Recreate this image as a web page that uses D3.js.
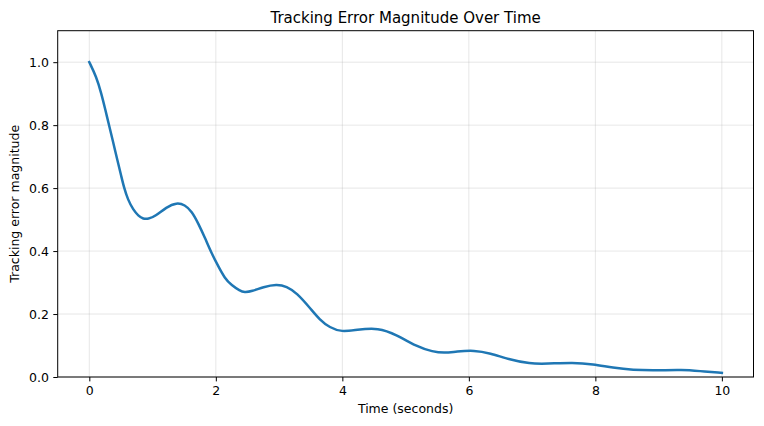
<!DOCTYPE html>
<html>
<head>
<meta charset="utf-8">
<script src="https://cdn.jsdelivr.net/npm/d3@7"></script>
<style>
  body { margin: 0; background: #fff; }
  text { font-family: "DejaVu Sans", sans-serif; fill: #000; }
</style>
</head>
<body>
<div id="chart"></div>
<script>
// Values
var times = [0, 0.11, 0.19, 0.253, 0.311, 0.374, 0.442, 0.506, 0.548, 0.61, 0.695, 0.774, 0.853, 0.932,
             1.04, 1.22, 1.38, 1.51, 1.62, 1.72, 1.83, 1.93, 2.04, 2.14, 2.25, 2.38, 2.45, 2.57,
             2.75, 2.96, 3.12, 3.28, 3.49, 3.64, 3.80, 3.99, 4.22, 4.57, 4.86, 5.17, 5.43, 5.62,
             5.80, 6.09, 6.33, 6.65, 6.96, 7.23, 7.65, 7.96, 8.28, 8.59, 8.96, 9.38, 9.64, 10.0];
var errorValues = [1.0, 0.954, 0.901, 0.849, 0.80, 0.748, 0.69, 0.637, 0.602, 0.563, 0.531, 0.512, 0.502, 0.502,
                   0.51, 0.54, 0.554, 0.547, 0.526, 0.489, 0.441, 0.394, 0.351, 0.314, 0.291, 0.274, 0.269, 0.272,
                   0.286, 0.295, 0.288, 0.267, 0.219, 0.182, 0.157, 0.143, 0.150, 0.157, 0.134, 0.097, 0.080, 0.076,
                   0.081, 0.085, 0.076, 0.055, 0.042, 0.042, 0.046, 0.041, 0.029, 0.022, 0.021, 0.023, 0.019, 0.013];
var xTicks = [0, 2, 4, 6, 8, 10];
var yTicks = [0.0, 0.2, 0.4, 0.6, 0.8, 1.0];

var WIDTH = 764, HEIGHT = 426;
var margin = {left: 57.7, right: 10.5, top: 30.7, bottom: 49};

var svg = d3.select("#chart")
            .append("svg")
              .attr("width", WIDTH)
              .attr("height", HEIGHT);

// Scales: matplotlib style 5% margin on x, fixed 0..1.1 on y
var xscale = d3.scaleLinear()
               .domain([-0.5, 10.5])
               .range([margin.left, WIDTH - margin.right]);
var yscale = d3.scaleLinear()
               .domain([0, 1.1])
               .range([HEIGHT - margin.bottom, margin.top]);

var plotTop = margin.top, plotBottom = HEIGHT - margin.bottom;
var plotLeft = margin.left, plotRight = WIDTH - margin.right;

// Grid lines
svg.append("g").selectAll("line")
   .data(xTicks).enter().append("line")
     .attr("x1", d => xscale(d)).attr("x2", d => xscale(d))
     .attr("y1", plotTop).attr("y2", plotBottom)
     .attr("stroke", "#b0b0b0").attr("stroke-opacity", 0.3).attr("stroke-width", 1);
svg.append("g").selectAll("line")
   .data(yTicks).enter().append("line")
     .attr("x1", plotLeft).attr("x2", plotRight)
     .attr("y1", d => yscale(d)).attr("y2", d => yscale(d))
     .attr("stroke", "#b0b0b0").attr("stroke-opacity", 0.3).attr("stroke-width", 1);

// The error curve (basis smoothing evens out reading noise)
var line = d3.line()
             .x((d, i) => xscale(times[i]))
             .y(d => yscale(d))
             .curve(d3.curveBasis);

svg.append("path")
   .datum(errorValues)
   .attr("d", line)
   .attr("fill", "none")
   .attr("stroke", "#1f77b4")
   .attr("stroke-width", 2.5)
   .attr("stroke-linecap", "square")
   .attr("stroke-linejoin", "round");

// Axes
var x_axis = d3.axisBottom(xscale)
               .tickValues(xTicks)
               .tickSize(4.4)
               .tickPadding(4.4)
               .tickFormat(d3.format("d"));
var y_axis = d3.axisLeft(yscale)
               .tickValues(yTicks)
               .tickSize(4.4)
               .tickPadding(4.4)
               .tickFormat(d3.format(".1f"));

var xAxisG = svg.append("g")
                .attr("transform", "translate(0," + plotBottom + ")")
                .call(x_axis);
var yAxisG = svg.append("g")
                .attr("transform", "translate(" + plotLeft + ",0)")
                .call(y_axis);

[xAxisG, yAxisG].forEach(function (g) {
  g.select(".domain").remove();
  g.selectAll("line").attr("stroke", "#000").attr("stroke-width", 1);
  g.selectAll("text").style("font-size", "12.5px").style("font-family", "DejaVu Sans, sans-serif");
});

// Frame (all four spines)
svg.append("rect")
   .attr("x", plotLeft).attr("y", plotTop)
   .attr("width", plotRight - plotLeft)
   .attr("height", plotBottom - plotTop)
   .attr("fill", "none")
   .attr("stroke", "#000")
   .attr("stroke-width", 1);

// Title and labels
svg.append("text")
   .attr("x", (plotLeft + plotRight) / 2)
   .attr("y", 23)
   .attr("text-anchor", "middle")
   .style("font-size", "15px")
   .text("Tracking Error Magnitude Over Time");

svg.append("text")
   .attr("x", (plotLeft + plotRight) / 2)
   .attr("y", 413)
   .attr("text-anchor", "middle")
   .style("font-size", "12.5px")
   .text("Time (seconds)");

svg.append("text")
   .attr("transform", "translate(19," + (plotTop + plotBottom) / 2 + ") rotate(-90)")
   .attr("text-anchor", "middle")
   .style("font-size", "12.5px")
   .text("Tracking error magnitude");
</script>
</body>
</html>
